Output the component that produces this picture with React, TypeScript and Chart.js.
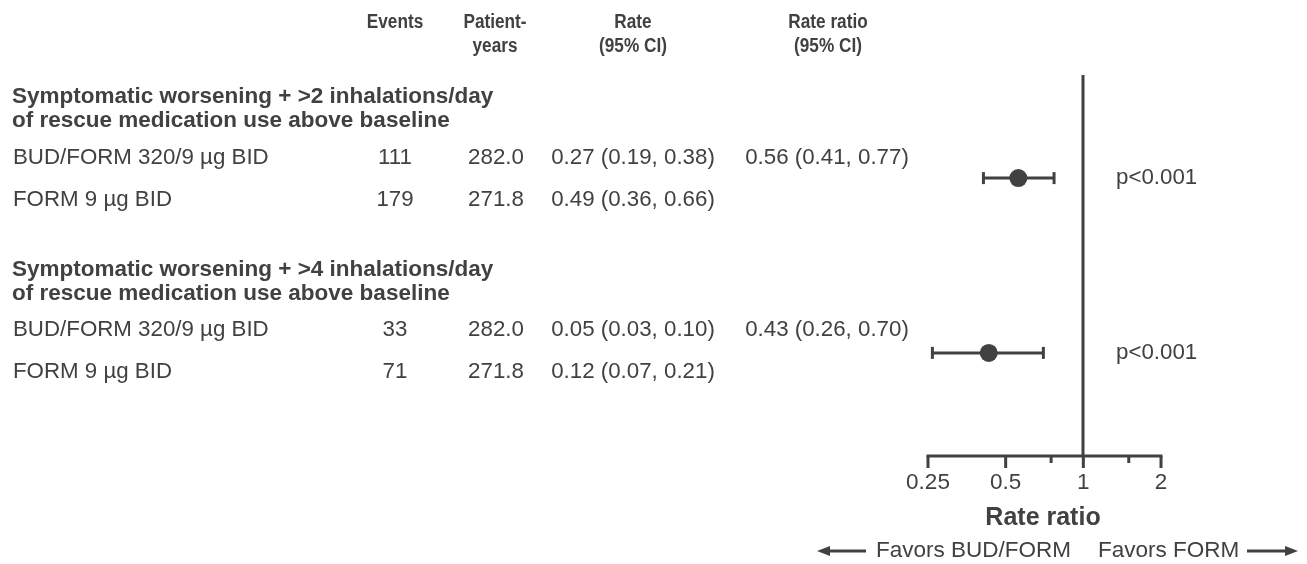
import React, { useEffect, useRef } from "react";
import { Chart, registerables } from "chart.js";

Chart.register(...registerables);

const headerLines = [
  ["Events", ""],
  ["Patient-", "years"],
  ["Rate", "(95% CI)"],
  ["Rate ratio", "(95% CI)"],
];
const groupTitles = [
  ["Symptomatic worsening + >2 inhalations/day", "of rescue medication use above baseline"],
  ["Symptomatic worsening + >4 inhalations/day", "of rescue medication use above baseline"],
];
const treatments = ["BUD/FORM 320/9 µg BID", "FORM 9 µg BID"];
const events = [
  [111, 179],
  [33, 71],
];
const patientYears = [
  ["282.0", "271.8"],
  ["282.0", "271.8"],
];
const rates = [
  ["0.27 (0.19, 0.38)", "0.49 (0.36, 0.66)"],
  ["0.05 (0.03, 0.10)", "0.12 (0.07, 0.21)"],
];
const rateRatios = [0.56, 0.43];
const ciLow = [0.41, 0.26];
const ciHigh = [0.77, 0.7];
const pValues = ["p<0.001", "p<0.001"];
const comparisonRows = [1, 2];
const majorTicks = [0.25, 0.5, 1, 2];
const minorTicks = [0.75, 1.5];
const axisTitle = "Rate ratio";
const favorsLeft = "Favors BUD/FORM";
const favorsRight = "Favors FORM";

const INK = "#414141";
const FONT = "'Liberation Sans', Arial, sans-serif";

export default function App() {
  const ref = useRef<HTMLCanvasElement | null>(null);

  useEffect(() => {
    const canvas = ref.current;
    if (!canvas) return;

    const overlay = {
      id: "forestOverlay",
      afterDatasetsDraw(chart: any) {
        const ctx = chart.ctx as CanvasRenderingContext2D;
        const xs = chart.scales.x;
        const area = chart.chartArea;
        ctx.save();
        ctx.strokeStyle = INK;
        ctx.fillStyle = INK;
        ctx.lineCap = "butt";

        // reference line at 1
        const x1 = Math.round(xs.getPixelForValue(1));
        ctx.lineWidth = 3;
        ctx.beginPath();
        ctx.moveTo(x1, area.top);
        ctx.lineTo(x1, area.bottom);
        ctx.stroke();

        // axis line
        const axY = area.bottom;
        ctx.beginPath();
        ctx.moveTo(xs.getPixelForValue(majorTicks[0]) - 1.5, axY);
        ctx.lineTo(xs.getPixelForValue(majorTicks[majorTicks.length - 1]) + 1.5, axY);
        ctx.stroke();
        for (const t of majorTicks) {
          const px = xs.getPixelForValue(t);
          ctx.beginPath();
          ctx.moveTo(px, axY);
          ctx.lineTo(px, axY + 12);
          ctx.stroke();
        }
        for (const t of minorTicks) {
          const px = xs.getPixelForValue(t);
          ctx.beginPath();
          ctx.moveTo(px, axY);
          ctx.lineTo(px, axY + 7);
          ctx.stroke();
        }
        ctx.font = `22.5px ${FONT}`;
        ctx.textAlign = "center";
        ctx.textBaseline = "middle";
        for (const t of majorTicks) {
          ctx.fillText(String(t), xs.getPixelForValue(t), axY + 27);
        }
        ctx.font = `bold 25px ${FONT}`;
        ctx.fillText(axisTitle, 1043, axY + 62);

        // favors row
        const fy = axY + 95;
        ctx.font = `22.5px ${FONT}`;
        ctx.textAlign = "left";
        ctx.fillText(favorsLeft, 876, fy);
        ctx.fillText(favorsRight, 1098, fy);
        ctx.lineWidth = 3;
        ctx.beginPath();
        ctx.moveTo(866, fy);
        ctx.lineTo(826, fy);
        ctx.stroke();
        ctx.beginPath();
        ctx.moveTo(817, fy);
        ctx.lineTo(830, fy - 5);
        ctx.lineTo(830, fy + 5);
        ctx.closePath();
        ctx.fill();
        ctx.beginPath();
        ctx.moveTo(1247, fy);
        ctx.lineTo(1288, fy);
        ctx.stroke();
        ctx.beginPath();
        ctx.moveTo(1298, fy);
        ctx.lineTo(1285, fy - 5);
        ctx.lineTo(1285, fy + 5);
        ctx.closePath();
        ctx.fill();

        // headers (condensed bold)
        const headerX = [395, 495, 633, 828];
        const condensed = (txt: string, x: number, y: number) => {
          ctx.save();
          ctx.translate(x, y);
          ctx.scale(0.86, 1);
          ctx.fillText(txt, 0, 0);
          ctx.restore();
        };
        ctx.font = `bold 20px ${FONT}`;
        ctx.textAlign = "center";
        headerLines.forEach((lines, i) => {
          condensed(lines[0], headerX[i], 22);
          if (lines[1]) condensed(lines[1], headerX[i], 46);
        });

        // groups
        const groupTop = [97, 270];
        const rowY = [
          [158, 200],
          [330, 372],
        ];
        groupTitles.forEach((lines, g) => {
          ctx.font = `bold 22.5px ${FONT}`;
          ctx.textAlign = "left";
          ctx.fillText(lines[0], 12, groupTop[g]);
          ctx.fillText(lines[1], 12, groupTop[g] + 24);
          ctx.font = `22.3px ${FONT}`;
          treatments.forEach((tr, r) => {
            const y = rowY[g][r];
            ctx.textAlign = "left";
            ctx.fillText(tr, 13, y);
            ctx.textAlign = "center";
            ctx.fillText(String(events[g][r]), 395, y);
            ctx.fillText(patientYears[g][r], 496, y);
            ctx.fillText(rates[g][r], 633, y);
            if (r === 0) {
              const rr = `${rateRatios[g].toFixed(2)} (${ciLow[g].toFixed(2)}, ${ciHigh[g].toFixed(2)})`;
              ctx.fillText(rr, 827, y);
            }
          });
          ctx.textAlign = "left";
          const py = chart.scales.y.getPixelForValue(comparisonRows[g]);
          ctx.fillText(pValues[g], 1116, py);
        });
        ctx.restore();
      },
    };

    const ciDatasets = comparisonRows.map((row, i) => ({
      type: "line" as const,
      data: [
        { x: ciLow[i], y: row },
        { x: ciHigh[i], y: row },
      ],
      showLine: true,
      borderColor: INK,
      borderWidth: 3,
      pointStyle: "line" as const,
      pointRotation: 90,
      pointRadius: 6,
      pointBorderWidth: 3,
      pointBorderColor: INK,
      order: 2,
    }));

    const chart = new Chart(canvas, {
      type: "scatter",
      data: {
        datasets: [
          {
            data: comparisonRows.map((row, i) => ({ x: rateRatios[i], y: row })),
            backgroundColor: INK,
            borderColor: INK,
            pointRadius: 9,
            pointBorderWidth: 0,
            order: 1,
          } as any,
          ...(ciDatasets as any[]),
        ],
      },
      options: {
        animation: false,
        responsive: false,
        events: [],
        layout: { padding: { left: 928, right: 146, top: 75, bottom: 108 } },
        plugins: { legend: { display: false }, tooltip: { enabled: false } },
        scales: {
          x: { type: "logarithmic", min: 0.25, max: 2, display: false },
          y: { type: "linear", min: 0.41, max: 2.59, reverse: true, display: false },
        },
      },
      plugins: [overlay],
    });
    return () => chart.destroy();
  }, []);

  return (
    <div style={{ position: "absolute", left: 0, top: 0, width: 1307, height: 564, background: "#fff" }}>
      <canvas ref={ref} width={1307} height={564} />
    </div>
  );
}
